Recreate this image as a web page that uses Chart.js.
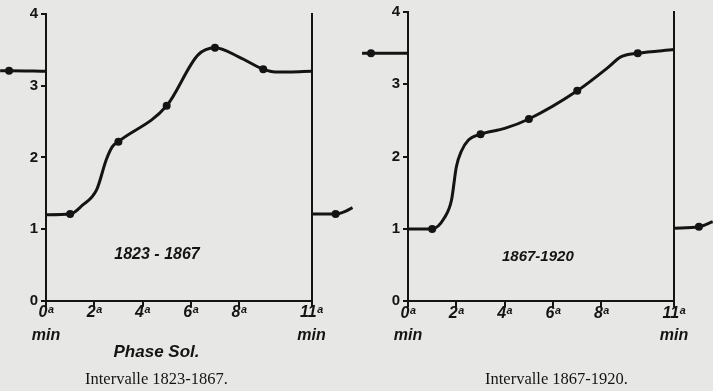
<!DOCTYPE html>
<html><head><meta charset="utf-8">
<script src="https://cdn.jsdelivr.net/npm/chart.js@4/dist/chart.umd.min.js"></script>
<style>
html,body{margin:0;padding:0;width:713px;height:391px;overflow:hidden;background:#e7e7e5;position:relative;}
#wrapA{position:absolute;left:0;top:0;width:356px;height:391px;}
#wrapB{position:absolute;left:358px;top:0;width:375px;height:391px;}
canvas{display:block;}
</style></head><body>
<div id="wrapA"><canvas id="chartA" width="356" height="391"></canvas></div>
<div id="wrapB"><canvas id="chartB" width="375" height="391"></canvas></div>
<script>
// ---- shared axis texts ----
const xTickValues = [0, 2, 4, 6, 8, 11];
const xTickLabels = ["0ᵃ", "2ᵃ", "4ᵃ", "6ᵃ", "8ᵃ", "11ᵃ"];
const xUnitLabel = "min";
const yTickValues = [0, 1, 2, 3, 4];

// ---- panel A : 1823-1867 ----
const periodA = "1823 - 1867";
const captionA = "Intervalle 1823-1867.";
const axisTitleA = "Phase Sol.";
const curveAX = [0, 1, 1.5, 2.1, 2.5, 2.75, 3, 5, 6.3, 7, 8, 9, 9.5, 11];
const curveAY = [1.2, 1.21, 1.33, 1.55, 1.97, 2.15, 2.22, 2.72, 3.43, 3.53, 3.4, 3.23, 3.19, 3.2];
const stubLeftAX = [-1.9, -1.53, 0];
const stubLeftAY = [3.21, 3.21, 3.2];
const stubRightAX = [11, 12, 12.35, 12.7];
const stubRightAY = [1.21, 1.21, 1.24, 1.3];
const pointsAX = [-1.53, 1, 3, 5, 7, 9, 12];
const pointsAY = [3.21, 1.21, 2.22, 2.72, 3.53, 3.23, 1.21];

// ---- panel B : 1867-1920 ----
const periodB = "1867-1920";
const captionB = "Intervalle 1867-1920.";
const curveBX = [0, 1, 1.5, 1.8, 2.0, 2.2, 2.5, 3, 4, 5, 7, 8.3, 8.8, 9.5, 11];
const curveBY = [1.0, 1.0, 1.15, 1.4, 1.86, 2.07, 2.23, 2.31, 2.39, 2.52, 2.91, 3.24, 3.38, 3.43, 3.48];
const stubLeftBX = [-1.9, -1.53, 0];
const stubLeftBY = [3.43, 3.43, 3.43];
const stubRightBX = [11, 12.03, 12.6];
const stubRightBY = [1.01, 1.03, 1.1];
const pointsBX = [-1.53, 1, 3, 5, 7, 9.5, 12.03];
const pointsBY = [3.43, 1.0, 2.31, 2.52, 2.91, 3.43, 1.03];

const INK = '#141414';
const SANS = '"Liberation Sans", "DejaVu Sans", Arial, sans-serif';
const SERIF = '"Liberation Serif", "DejaVu Serif", serif';

function zip(xs, ys) { return xs.map((x, i) => ({x: x, y: ys[i]})); }

// let the marks that continue the cycle outside the frame (stubs) be drawn
const wholeCanvasPlugin = {
  id: 'wholeCanvas',
  beforeDatasetsDraw(chart) {
    chart.$savedArea = chart.chartArea;
    chart.chartArea = { left: 0, top: 0, right: chart.width, bottom: chart.height, width: chart.width, height: chart.height };
  },
  afterDatasetsDraw(chart) {
    if (chart.$savedArea) chart.chartArea = chart.$savedArea;
  }
};

const periodLabelPlugin = {
  id: 'periodLabel',
  afterDatasetsDraw(chart, args, opts) {
    if (!opts || !opts.text) return;
    const ctx = chart.ctx;
    ctx.save();
    ctx.font = opts.font;
    ctx.fillStyle = INK;
    ctx.textAlign = 'center';
    ctx.textBaseline = 'middle';
    ctx.fillText(opts.text, chart.scales.x.getPixelForValue(opts.x), chart.scales.y.getPixelForValue(opts.y));
    ctx.restore();
  }
};

function lineDs(xs, ys) {
  return {
    data: zip(xs, ys), showLine: true, pointRadius: 0, borderColor: INK, borderWidth: 3,
    cubicInterpolationMode: 'monotone', capBezierPoints: false, clip: false, fill: false,
    xAxisID: 'x', yAxisID: 'y'
  };
}
function pointDs(xs, ys) {
  return {
    data: zip(xs, ys), showLine: false, pointRadius: 4, pointBorderWidth: 0,
    backgroundColor: INK, borderColor: INK, clip: false, xAxisID: 'x', yAxisID: 'y'
  };
}

function makePanel(canvasId, p) {
  return new Chart(document.getElementById(canvasId), {
    type: 'scatter',
    data: { datasets: [
      lineDs(p.curveX, p.curveY),
      lineDs(p.stubLX, p.stubLY),
      lineDs(p.stubRX, p.stubRY),
      pointDs(p.ptsX, p.ptsY)
    ]},
    plugins: [wholeCanvasPlugin, periodLabelPlugin],
    options: {
      responsive: false, maintainAspectRatio: false, animation: false, events: [],
      elements: { line: { capBezierPoints: false } },
      layout: { padding: p.padding },
      plugins: {
        legend: { display: false },
        tooltip: { enabled: false },
        subtitle: {
          display: !!p.axisTitle, text: p.axisTitle || '', position: 'bottom', color: INK,
          font: { family: SANS, size: 17, weight: 'bold', style: 'italic' },
          padding: { top: 1, bottom: 1 }
        },
        title: {
          display: true, text: p.caption, position: 'bottom', color: INK,
          font: { family: SERIF, size: 16.5, weight: 'normal' },
          padding: { top: p.captionPadTop, bottom: 0 }
        },
        periodLabel: { text: p.period, x: p.periodX, y: p.periodY, font: p.periodFont }
      },
      scales: {
        x: {
          type: 'linear', position: 'bottom', bounds: 'data',
          afterDataLimits: s => { s.min = xTickValues[0]; s.max = xTickValues[xTickValues.length - 1]; },
          afterBuildTicks: s => { s.ticks = xTickValues.map(v => ({ value: v })); },
          afterFit: s => { s.height = 40; },
          grid: { display: true, drawOnChartArea: false, drawTicks: true, tickLength: 6, color: INK, lineWidth: 2 },
          border: { display: true, color: INK, width: 2 },
          ticks: {
            autoSkip: false, maxRotation: 0, minRotation: 0, padding: -5, color: INK,
            font: { family: SANS, size: 16, weight: 'bold', style: 'italic', lineHeight: 1.4 },
            callback: (v, i) => (i === 0 || i === xTickLabels.length - 1) ? [xTickLabels[i], xUnitLabel] : xTickLabels[i]
          }
        },
        y: {
          type: 'linear', position: 'left', min: 0, max: 4,
          afterBuildTicks: s => { s.ticks = yTickValues.map(v => ({ value: v })); },
          afterFit: s => { s.width = p.yAxisWidth; },
          grid: { display: true, drawOnChartArea: false, drawTicks: true, tickLength: 5, color: INK, lineWidth: 2 },
          border: { display: true, color: INK, width: 2 },
          ticks: { padding: 3, color: INK, font: { family: SANS, size: 15, weight: 'bold' } }
        },
        y2: {
          type: 'linear', position: 'right', min: 0, max: 4,
          afterFit: s => { s.width = p.rightAxisWidth; },
          grid: { display: false, drawTicks: false },
          border: { display: true, color: INK, width: 2 },
          ticks: { display: false }
        }
      }
    }
  });
}

makePanel('chartA', {
  curveX: curveAX, curveY: curveAY, stubLX: stubLeftAX, stubLY: stubLeftAY,
  stubRX: stubRightAX, stubRY: stubRightAY, ptsX: pointsAX, ptsY: pointsAY,
  padding: { left: 0, right: 43, top: 14, bottom: 1 },
  yAxisWidth: 46, rightAxisWidth: 1.5,
  axisTitle: axisTitleA, caption: captionA, captionPadTop: 7,
  period: periodA, periodX: 4.6, periodY: 0.65, periodFont: 'italic bold 16px ' + SANS
});

makePanel('chartB', {
  curveX: curveBX, curveY: curveBY, stubLX: stubLeftBX, stubLY: stubLeftBY,
  stubRX: stubRightBX, stubRY: stubRightBY, ptsX: pointsBX, ptsY: pointsBY,
  padding: { left: 26, right: 4, top: 12, bottom: 1 },
  yAxisWidth: 24, rightAxisWidth: 55,
  axisTitle: null, caption: captionB, captionPadTop: 29,
  period: periodB, periodX: 5.37, periodY: 0.62, periodFont: 'italic bold 15px ' + SANS
});
</script>
</body></html>
